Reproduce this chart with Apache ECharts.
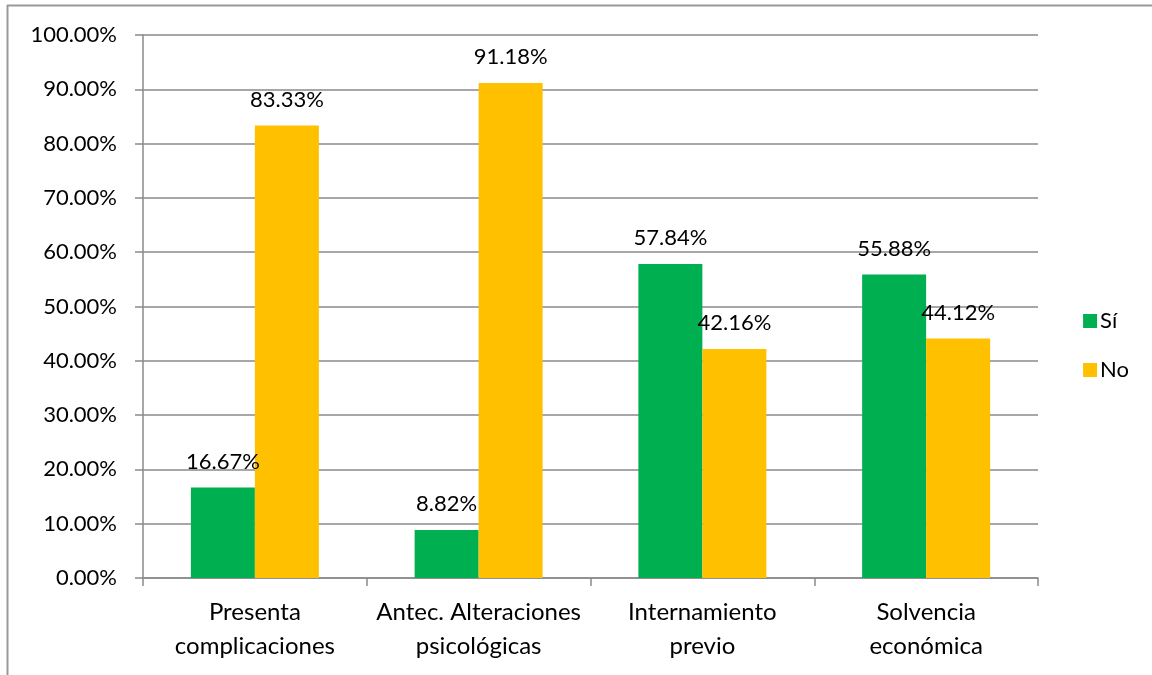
<!DOCTYPE html>
<html>
<head>
<meta charset="utf-8">
<script src="https://cdn.jsdelivr.net/npm/echarts@6/dist/echarts.min.js"></script>
<style>
  html, body { margin: 0; padding: 0; background: #fff; }
  #chart { width: 1152px; height: 675px; }
</style>
</head>
<body>
<div id="chart"></div>
<script>
// Categories and percentages per group
const categories = [
  'Presenta\ncomplicaciones',
  'Antec. Alteraciones\npsicológicas',
  'Internamiento\nprevio',
  'Solvencia\neconómica'
];
const siValues = [16.67, 8.82, 57.84, 55.88];
const noValues = [83.33, 91.18, 42.16, 44.12];
const seriesNames = ['Sí', 'No'];

const FONT = 'Lato, "Open Sans", sans-serif';
const GRID_COLOR = '#8a8a8a';

const chart = echarts.init(document.getElementById('chart'), null, { renderer: 'canvas' });

const valueLabel = {
  show: true,
  position: 'top',
  distance: 15,
  color: '#000',
  fontFamily: FONT,
  fontSize: 22,
  formatter: p => p.value.toFixed(2) + '%'
};

chart.setOption({
  backgroundColor: '#fff',
  animation: false,
  color: ['#00B050', '#FFC000'],
  graphic: [
    // outer frame (top and left edges)
    { type: 'line', shape: { x1: 7, y1: 5.5, x2: 1152, y2: 5.5 }, style: { stroke: '#999', lineWidth: 2 } },
    { type: 'line', shape: { x1: 7.5, y1: 5, x2: 7.5, y2: 675 }, style: { stroke: '#999', lineWidth: 2 } }
  ],
  grid: { left: 143, right: 114, top: 35, bottom: 97, containLabel: false },
  legend: {
    orient: 'vertical',
    right: 18,
    top: 305,
    itemWidth: 14,
    itemHeight: 14,
    itemGap: 27,
    icon: 'rect',
    textStyle: { fontFamily: FONT, fontSize: 22, color: '#000', padding: [0, 0, 0, -2] },
    data: seriesNames
  },
  xAxis: {
    type: 'category',
    data: categories,
    axisLine: { lineStyle: { color: GRID_COLOR, width: 1.5 } },
    axisTick: { show: true, length: 8, alignWithLabel: false, lineStyle: { color: GRID_COLOR, width: 1.5 } },
    axisLabel: { interval: 0, fontFamily: FONT, fontSize: 24, color: '#000', lineHeight: 34, margin: 17 }
  },
  yAxis: {
    type: 'value',
    min: 0,
    max: 100,
    interval: 10,
    axisLine: { show: true, lineStyle: { color: GRID_COLOR, width: 1.5 } },
    axisTick: { show: true, length: 8, lineStyle: { color: GRID_COLOR, width: 1.5 } },
    splitLine: { lineStyle: { color: GRID_COLOR, width: 1.5 } },
    axisLabel: {
      fontFamily: FONT, fontSize: 22, color: '#000', margin: 26,
      formatter: v => v.toFixed(2) + '%'
    }
  },
  series: [
    {
      name: seriesNames[0], type: 'bar', data: siValues,
      barGap: '0%', barCategoryGap: '42.8%', label: valueLabel
    },
    {
      name: seriesNames[1], type: 'bar', data: noValues,
      barGap: '0%', barCategoryGap: '42.8%', label: valueLabel
    }
  ]
});
</script>
</body>
</html>
